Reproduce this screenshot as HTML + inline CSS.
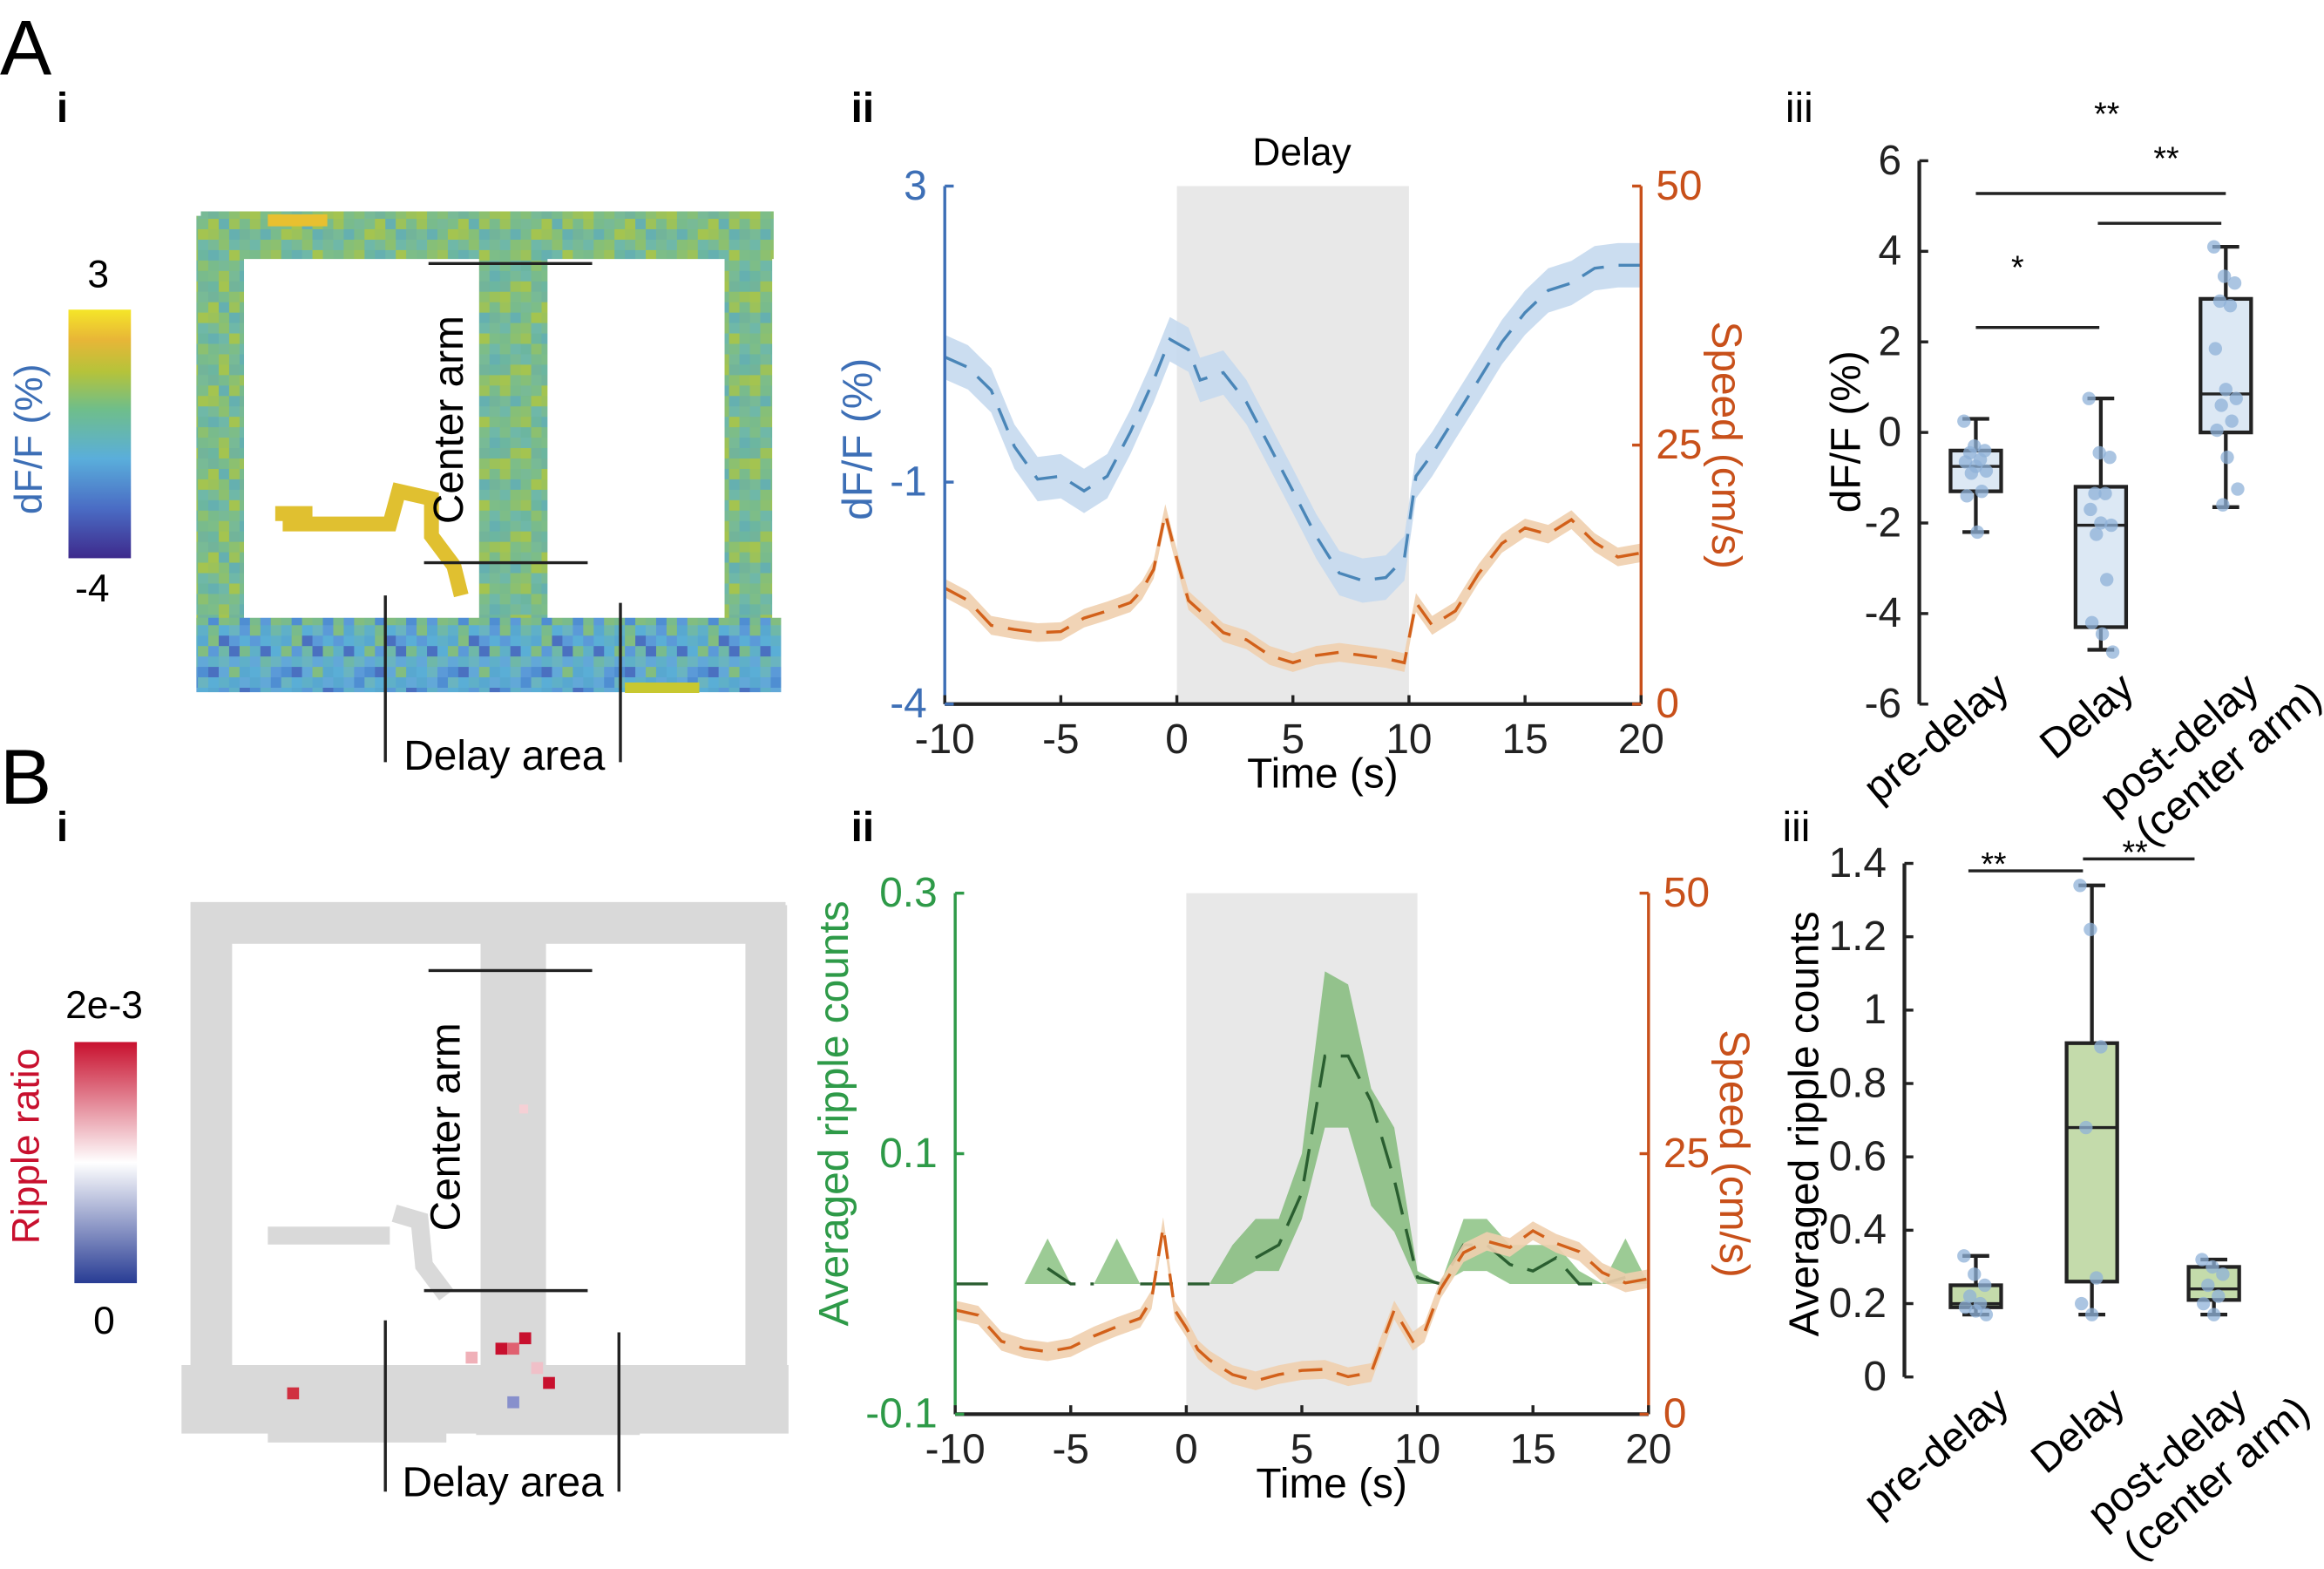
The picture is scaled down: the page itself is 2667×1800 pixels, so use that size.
<!DOCTYPE html>
<html><head><meta charset="utf-8"><style>
html,body{margin:0;padding:0;background:#fff}
svg{display:block}
text{font-family:"Liberation Sans",Arial,sans-serif}
</style></head><body>
<svg id="fig" xmlns="http://www.w3.org/2000/svg" width="2667" height="1800" viewBox="0 0 1562 1054" preserveAspectRatio="none">
<defs>
<linearGradient id="viridis" x1="0" y1="1" x2="0" y2="0">
<stop offset="0" stop-color="#3e2a8c"/><stop offset="0.2" stop-color="#4a6cc4"/><stop offset="0.4" stop-color="#5aaedb"/><stop offset="0.6" stop-color="#6fbe8a"/><stop offset="0.75" stop-color="#b5c33a"/><stop offset="0.88" stop-color="#e8b637"/><stop offset="1" stop-color="#f5e628"/>
</linearGradient>
<linearGradient id="rwb" x1="0" y1="1" x2="0" y2="0">
<stop offset="0" stop-color="#283c94"/><stop offset="0.5" stop-color="#ffffff"/><stop offset="1" stop-color="#c8102e"/>
</linearGradient>
<pattern id="texGreen" x="0" y="0" width="56" height="56" patternUnits="userSpaceOnUse"></pattern>
<pattern id="texBlue" x="0" y="0" width="56" height="56" patternUnits="userSpaceOnUse"></pattern>
</defs>

<!-- Panel A i -->
<text x="0" y="50" font-size="52">A</text>
<text x="38" y="82" font-size="28" font-weight="bold">i</text>
<rect x="46" y="208" width="42" height="167" fill="url(#viridis)"/>
<text x="66" y="193" font-size="26" text-anchor="middle">3</text>
<text x="62" y="404" font-size="26" text-anchor="middle">-4</text>
<text transform="translate(28,295) rotate(-90)" font-size="26" fill="#3d6fb6" text-anchor="middle">dF/F (%)</text>
<g fill="none" stroke-linecap="butt">
<path d="M148,145 L148,455 M135,158 L520,158 M503,145 L503,460" stroke="url(#texGreen)" stroke-width="32"/>
<path d="M345,160 L345,440" stroke="url(#texGreen)" stroke-width="46"/>
<path d="M132,440 L525,440" stroke="url(#texBlue)" stroke-width="50"/>
<path d="M185,345 L210,345 M190,352 L262,352 L268,330 L290,335 L290,360 L305,380 L310,400" stroke="#e0c030" stroke-width="10"/>
<path d="M180,148 L220,148" stroke="#e8c030" stroke-width="8"/>
<path d="M420,462 L470,462" stroke="#c8c830" stroke-width="7"/>
</g>
<g stroke="#222" stroke-width="2">
<line x1="288" y1="177" x2="398" y2="177"/><line x1="285" y1="378" x2="395" y2="378"/>
<line x1="259" y1="400" x2="259" y2="512"/><line x1="417" y1="405" x2="417" y2="512"/>
</g>
<text transform="translate(311,282) rotate(-90)" font-size="28" text-anchor="middle">Center arm</text>
<text x="339" y="517" font-size="28" text-anchor="middle">Delay area</text>

<!-- Panel A ii -->
<text x="572" y="82" font-size="28" font-weight="bold">ii</text>
<g id="aii"></g>

<!-- Panel A iii -->
<text x="1200" y="82" font-size="28">iii</text>
<g id="aiii"></g>

<!-- Panel B i -->
<text x="0" y="540" font-size="52">B</text>
<text x="38" y="565" font-size="28" font-weight="bold">i</text>
<rect x="50" y="700" width="42" height="162" fill="url(#rwb)"/>
<text x="70" y="684" font-size="26" text-anchor="middle">2e-3</text>
<text x="70" y="896" font-size="26" text-anchor="middle">0</text>
<text transform="translate(26,770) rotate(-90)" font-size="26" fill="#c8102e" text-anchor="middle">Ripple ratio</text>
<g fill="none" stroke="#d9d9d9" stroke-linecap="butt">
<path d="M142,608 L142,950 M128,620 L528,620 M515,608 L515,950" stroke-width="28"/>
<path d="M345,625 L345,935" stroke-width="44"/>
<path d="M122,940 L530,940" stroke-width="46"/>
<path d="M180,830 L262,830 M265,815 L282,820 L285,850 L300,870" stroke-width="12"/>
<path d="M180,962 L300,962 M320,957 L430,957" stroke-width="14"/>
</g>
<g>
<rect x="333" y="902" width="8" height="8" fill="#c8102e"/><rect x="341" y="902" width="8" height="8" fill="#e06070"/><rect x="349" y="895" width="8" height="8" fill="#c8102e"/>
<rect x="313" y="908" width="8" height="8" fill="#f0b0b8"/><rect x="365" y="925" width="8" height="8" fill="#c8102e"/><rect x="357" y="915" width="8" height="8" fill="#f0c0c8"/>
<rect x="341" y="938" width="8" height="8" fill="#8890cc"/><rect x="193" y="932" width="8" height="8" fill="#d03040"/><rect x="349" y="742" width="6" height="6" fill="#f5d0d5"/>
</g>
<g stroke="#222" stroke-width="2">
<line x1="288" y1="652" x2="398" y2="652"/><line x1="285" y1="867" x2="395" y2="867"/>
<line x1="259" y1="887" x2="259" y2="1002"/><line x1="416" y1="895" x2="416" y2="1002"/>
</g>
<text transform="translate(309,757) rotate(-90)" font-size="28" text-anchor="middle">Center arm</text>
<text x="338" y="1005" font-size="28" text-anchor="middle">Delay area</text>

<!-- Panel B ii -->
<text x="572" y="565" font-size="28" font-weight="bold">ii</text>
<g id="bii"></g>

<!-- Panel B iii -->
<text x="1198" y="565" font-size="28">iii</text>
<g id="biii"></g>
</svg>
<script>
// ---------- data ----------
const timeA = [-10,-9,-8,-7,-6,-5,-4,-3,-2,-1,-0.3,0.5,1,2,3,4,5,6,7,8,9,9.8,10.3,11,12,13,14,15,16,17,18,19,20];
const dffMean = [0.69,0.55,0.24,-0.52,-0.96,-0.92,-1.12,-0.92,-0.32,0.38,0.93,0.79,0.38,0.48,0.08,-0.52,-1.12,-1.73,-2.23,-2.33,-2.29,-2.03,-0.92,-0.62,-0.12,0.38,0.89,1.29,1.59,1.69,1.89,1.93,1.93];
const dffSem = 0.3;
const timeS = [-10,-9,-8,-7,-6,-5,-4,-3,-2,-1.5,-1,-0.5,0,0.5,1,2,3,4,5,6,7,8,9,9.8,10.3,11,12,13,14,15,16,17,18,19,20];
const speedA = [11.2,10,7.6,7.2,6.9,7,8.3,9,9.8,11,13,18.4,14,10,9,6.9,6.2,4.7,4,4.7,5,4.7,4.4,4,9.8,7.6,9,12.6,15.5,17,16.4,17.8,15.6,14.2,14.6];
const speedSem = 0.9;
const timeR = [-10,-9,-8,-7,-6,-5,-4,-3,-2,-1,0,1,2,3,4,5,6,7,8,9,10,11,12,13,14,15,16,17,18,19,20];
const rippleMean = [0,0,0,null,0.012,0,0,null,0,0,0,0,null,0.02,0.03,0.07,0.175,0.175,0.14,0.08,0.005,0,0.03,0.03,0.015,0.01,0.02,0,0,0.005,null];
const rippleUpper = [0,0,0,0,0.035,0,0,0.035,0,0,0,0,0.03,0.05,0.05,0.1,0.24,0.23,0.15,0.12,0.01,0,0.05,0.05,0.03,0.03,0.03,0.01,0,0.035,0];
const rippleLower = [0,0,0,0,0,0,0,0,0,0,0,0,0,0.01,0.01,0.05,0.12,0.12,0.06,0.04,0,0,0.01,0.01,0,0,0,0,0,0,0];
const speedB = [10,9.5,7,6.3,6,6.4,7.5,8.4,9.2,11,18,10,8.3,6.2,5.2,3.8,3.2,3.8,4.2,4.3,3.6,4,10,7,7.8,12,15.5,16.6,16,17.6,16.4,15.6,13.6,12.6,13];
const groups = ["pre-delay","Delay","post-delay"];
const dffBoxLow = [-2.2,-4.8,-1.65], dffQ1=[-1.3,-4.3,0], dffMed=[-0.75,-2.05,0.85], dffQ3=[-0.4,-1.2,2.95], dffHigh=[0.3,0.75,4.1];
const dffPts = [[0.25,-0.3,-0.4,-0.45,-0.6,-0.65,-0.75,-0.85,-0.9,-1.3,-1.4,-2.2],[0.75,-0.45,-0.55,-1.35,-1.35,-1.7,-2,-2.05,-2.25,-3.25,-4.2,-4.45,-4.85],[4.1,3.45,3.3,2.9,2.8,1.85,0.95,0.75,0.6,0.25,0.05,-0.55,-1.25,-1.6]];
const ripBoxLow=[0.17,0.17,0.17], ripQ1=[0.19,0.26,0.21], ripMed=[0.2,0.68,0.24], ripQ3=[0.25,0.91,0.3], ripHigh=[0.33,1.34,0.32];
const ripPts=[[0.33,0.28,0.25,0.22,0.2,0.19,0.18,0.17],[1.34,1.22,0.9,0.68,0.27,0.2,0.17],[0.32,0.3,0.28,0.25,0.22,0.2,0.17]];
const dffTicks=[3,-1,-4], speedTicks=[50,25,0], timeTicks=[-10,-5,0,5,10,15,20];
const rippleTicks=[0.3,0.1,-0.1];
const dffBoxTicks=[6,4,2,0,-2,-4,-6], ripBoxTicks=[1.4,1.2,1,0.8,0.6,0.4,0.2,0];

// ---------- helpers ----------
const NS="http://www.w3.org/2000/svg";
function mk(parent,tag,attrs,txt){const e=document.createElementNS(NS,tag);for(const k in attrs)e.setAttribute(k,attrs[k]);if(txt!==undefined)e.textContent=txt;parent.appendChild(e);return e;}
function lin(d0,d1,r0,r1){return v=>r0+(v-d0)*(r1-r0)/(d1-d0);}
function linePath(xs,ys,sx,sy){let d="",pen=false;xs.forEach((x,i)=>{const y=ys[i];if(y===null||y===undefined){pen=false;return;}d+=(pen?"L":"M")+sx(x).toFixed(1)+","+sy(y).toFixed(1);pen=true;});return d;}
function bandPath(xs,up,lo,sx,sy){let d="M";xs.forEach((x,i)=>{d+=sx(x).toFixed(1)+","+sy(up[i]).toFixed(1)+"L";});for(let i=xs.length-1;i>=0;i--){d+=sx(xs[i]).toFixed(1)+","+sy(lo[i]).toFixed(1)+(i>0?"L":"Z");}return d;}

// texture patterns for maze (decorative)
(function(){
  const greens=["#79bb8c","#86bf78","#6fb8a8","#9cc25a","#72b49a","#7dbd88","#65b0b0","#8cc070","#78ba96","#a4c450","#6cb6a0"];
  const blues=["#5aaed6","#6fb8a8","#62a8d8","#5b9ad8","#79bb8c","#58a8d0","#4a70c0","#6ab4c0","#5fb0c8","#82bd80","#4f8ed2"];
  [["texGreen",greens],["texBlue",blues]].forEach(([id,pal])=>{
    const p=document.getElementById(id);
    for(let i=0;i<8;i++)for(let j=0;j<8;j++){
      mk(p,"rect",{x:i*7,y:j*7,width:7,height:7,fill:pal[(i*7+j*5+((i*j)%4))%11]});
    }
  });
})();

function timeChart(g,cfg){
  const {x0,x1,y0,y1,leftCol}=cfg;
  const sx=lin(-10,20,x0,x1);
  const sySp=lin(0,50,y1,y0);
  const r=mk(g,"rect",{x:sx(0),y:y0,width:sx(10)-sx(0),height:y1-y0,fill:"#e8e8e8"});
  
  
  cfg.drawLeft(sx);
  const spUp=cfg.speed.map(v=>v+speedSem), spLo=cfg.speed.map(v=>v-speedSem);
  const sb=mk(g,"path",{d:bandPath(timeS,spUp,spLo,sx,sySp),fill:"#f0cfae","fill-opacity":"0.9"});
  
  
  const sl=mk(g,"path",{d:linePath(timeS,cfg.speed,sx,sySp),fill:"none",stroke:"#d2601a","stroke-width":2,"stroke-dasharray":"16 10"});
  
  
  const la=mk(g,"line",{x1:x0,y1:y0,x2:x0,y2:y1,stroke:leftCol,"stroke-width":2});
  
  
  const ra=mk(g,"line",{x1:x1,y1:y0,x2:x1,y2:y1,stroke:"#c8501a","stroke-width":2});
  
  
  const xa=mk(g,"line",{x1:x0,y1:y1,x2:x1,y2:y1,stroke:"#222","stroke-width":2.5});
  
  
  timeTicks.forEach(t=>{
    mk(g,"line",{x1:sx(t),y1:y1,x2:sx(t),y2:y1-6,stroke:"#222","stroke-width":2});
    const tl=mk(g,"text",{x:sx(t),y:y1+33,"font-size":28,"text-anchor":"middle",fill:"#222"},String(t));
    
    
  });
  cfg.leftTicks.forEach(v=>{
    const y=cfg.syL(v);
    mk(g,"line",{x1:x0,y1:y,x2:x0+6,y2:y,stroke:leftCol,"stroke-width":2});
    const tl=mk(g,"text",{x:x0-12,y:y+9,"font-size":28,"text-anchor":"end",fill:leftCol},String(v));
    
    
  });
  speedTicks.forEach(v=>{
    const y=sySp(v);
    mk(g,"line",{x1:x1,y1:y,x2:x1-6,y2:y,stroke:"#c8501a","stroke-width":2});
    const tl=mk(g,"text",{x:x1+10,y:y+9,"font-size":28,fill:"#c8501a"},String(v));
    
    
  });
  const xt=mk(g,"text",{x:(x0+x1)/2+20,y:y1+56,"font-size":28,"text-anchor":"middle"},"Time (s)");
  
  
  const rt=mk(g,"text",{transform:`translate(${x1+48},${(y0+y1)/2}) rotate(90)`,"font-size":28,"text-anchor":"middle",fill:"#c8501a"},"Speed (cm/s)");
  
  
  const lt=mk(g,"text",{transform:`translate(${cfg.lTitleX},${cfg.lTitleY}) rotate(-90)`,"font-size":28,"text-anchor":"middle",fill:leftCol},cfg.lTitle);
  
  
}

// A ii
(function(){
  const g=document.getElementById("aii");
  const syL=lin(-4,3,473,125);
  timeChart(g,{x0:635,x1:1103,y0:125,y1:473,leftCol:"#3d6fb6",speed:speedA,leftTicks:dffTicks,syL,lTitle:"dF/F (%)",lTitleX:586,lTitleY:295,
    drawLeft:(sx)=>{
      const up=dffMean.map(v=>v+dffSem), lo=dffMean.map(v=>v-dffSem);
      const b=mk(g,"path",{d:bandPath(timeA,up,lo,sx,syL),fill:"#c5d9ee","fill-opacity":"0.9"});
      
      
      const l=mk(g,"path",{d:linePath(timeA,dffMean,sx,syL),fill:"none",stroke:"#4a86b8","stroke-width":2,"stroke-dasharray":"16 10"});
      
      
    }});
  const d=mk(g,"text",{x:875,y:111,"font-size":26,"text-anchor":"middle"},"Delay");
  
  
})();

// B ii
(function(){
  const g=document.getElementById("bii");
  const syL=lin(-0.1,0.3,950,600);
  timeChart(g,{x0:642,x1:1108,y0:600,y1:950,leftCol:"#2e9a48",speed:speedB,leftTicks:rippleTicks,syL,lTitle:"Averaged ripple counts",lTitleX:570,lTitleY:748,
    drawLeft:(sx)=>{
      const b=mk(g,"path",{d:bandPath(timeR,rippleUpper,rippleLower,sx,syL),fill:"#5aa84e","fill-opacity":"0.6"});
      
      
      const l=mk(g,"path",{d:linePath(timeR,rippleMean,sx,syL),fill:"none",stroke:"#2a5e30","stroke-width":2,"stroke-dasharray":"22 10"});
      
      
    }});
})();

function boxplot(g,cfg){
  const sy=lin(cfg.dom[0],cfg.dom[1],cfg.y1,cfg.y0);
  const ax=mk(g,"line",{x1:cfg.ax,y1:cfg.y0,x2:cfg.ax,y2:cfg.y1,stroke:"#222","stroke-width":2.5});
  
  
  cfg.ticks.forEach(v=>{
    mk(g,"line",{x1:cfg.ax,y1:sy(v),x2:cfg.ax+6,y2:sy(v),stroke:"#222","stroke-width":2});
    const t=mk(g,"text",{x:cfg.ax-12,y:sy(v)+9,"font-size":28,"text-anchor":"end",fill:"#222"},String(v));
    
    
  });
  const w=34;
  groups.forEach((name,i)=>{
    const cx=cfg.cx[i];
    const gg=mk(g,"g",{});
    
    
    mk(gg,"line",{x1:cx,y1:sy(cfg.low[i]),x2:cx,y2:sy(cfg.high[i]),stroke:"#222","stroke-width":2.5});
    mk(gg,"line",{x1:cx-9,y1:sy(cfg.low[i]),x2:cx+9,y2:sy(cfg.low[i]),stroke:"#222","stroke-width":2.5});
    mk(gg,"line",{x1:cx-9,y1:sy(cfg.high[i]),x2:cx+9,y2:sy(cfg.high[i]),stroke:"#222","stroke-width":2.5});
    mk(gg,"rect",{x:cx-w/2,y:sy(cfg.q3[i]),width:w,height:sy(cfg.q1[i])-sy(cfg.q3[i]),fill:cfg.fill,stroke:"#222","stroke-width":2.5});
    mk(gg,"line",{x1:cx-w/2,y1:sy(cfg.med[i]),x2:cx+w/2,y2:sy(cfg.med[i]),stroke:"#222","stroke-width":2});
    cfg.pts[i].forEach((v,j)=>{
      const c=mk(gg,"circle",{cx:cx+((j*7)%17-8),cy:sy(v),r:4.5,fill:cfg.dot,"fill-opacity":"0.75"});
      
      
    });
    const lbl=mk(g,"text",{transform:`translate(${cx+24},${cfg.y1+(cfg.labOff||0)}) rotate(-40)`,"font-size":28,"text-anchor":"end"},name);
    
    
    if(name==="post-delay"){
      const l2=mk(g,"text",{transform:`translate(${cx+66},${cfg.y1+(cfg.labOff||0)+6}) rotate(-40)`,"font-size":28,"text-anchor":"end"},"(center arm)");
      
      
    }
  });
  cfg.sig.forEach(s=>{
    mk(g,"line",{x1:s[0],y1:s[2],x2:s[1],y2:s[2],stroke:"#222","stroke-width":2});
    const t=mk(g,"text",{x:s[3],y:s[4],"font-size":22,"text-anchor":"middle"},s[5]);
    
    
  });
  const yt=mk(g,"text",{transform:`translate(${cfg.titleX},${cfg.titleY}) rotate(-90)`,"font-size":28,"text-anchor":"middle"},cfg.title);
  
  
}

boxplot(document.getElementById("aiii"),{ax:1290,y0:108,y1:473,dom:[-6,6],ticks:dffBoxTicks,cx:[1328,1412,1496],
  low:dffBoxLow,q1:dffQ1,med:dffMed,q3:dffQ3,high:dffHigh,pts:dffPts,fill:"#dce8f4",dot:"#8fb2d8",
  sig:[[1328,1496,130,1416,84,"**"],[1410,1493,150,1456,114,"**"],[1328,1411,220,1356,187,"*"]],
  title:"dF/F (%)",titleX:1250,titleY:290,labOff:-8});
boxplot(document.getElementById("biii"),{ax:1280,y0:580,y1:925,dom:[0,1.4],ticks:ripBoxTicks,cx:[1328,1406,1488],
  low:ripBoxLow,q1:ripQ1,med:ripMed,q3:ripQ3,high:ripHigh,pts:ripPts,fill:"#c4dbab",dot:"#8fb2d8",
  sig:[[1323,1400,585,1340,588,"**"],[1400,1475,577,1435,580,"**"]],
  title:"Averaged ripple counts",titleX:1222,titleY:755,labOff:20});
</script>
</body></html>
